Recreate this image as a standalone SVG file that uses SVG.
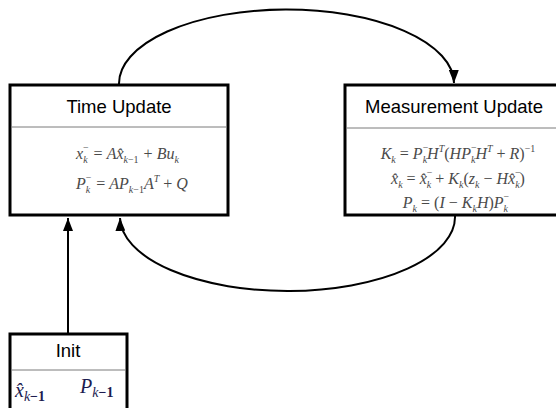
<svg xmlns="http://www.w3.org/2000/svg" width="556" height="408" viewBox="0 0 556 408">
  <style>
    .box { fill: #ffffff; stroke: #000000; stroke-width: 3; }
    .sep { stroke: #7a7a7a; stroke-width: 1; }
    .title { font-family: "Liberation Sans", Arial, sans-serif; font-size: 18.5px; fill: #000000; text-anchor: middle; }
    .eq { font-family: "Liberation Serif", "Times New Roman", serif; font-style: italic; font-size: 16px; fill: #4a4a4a; }
    .mid { text-anchor: middle; }
    .r { font-style: normal; }
    .s { font-size: 10px; }
    .init { font-family: "Liberation Serif", "Times New Roman", serif; font-style: italic; font-size: 20px; fill: #1c1c50; }
    .conn { fill: none; stroke: #000000; stroke-width: 2; }
  </style>
  <defs>
    <marker id="arrow" markerUnits="userSpaceOnUse" markerWidth="14" markerHeight="10" refX="13" refY="5" orient="auto">
      <path d="M0,0 L13,5 L0,10 z" fill="#000000"/>
    </marker>
  </defs>

  <g id="connectors">
    <path class="conn" d="M119,84 A167.5,74 0 0 1 454,83" marker-end="url(#arrow)"/>
    <path class="conn" d="M455,216 A167.5,74 0 0 1 120,218" marker-end="url(#arrow)"/>
    <path class="conn" d="M68,334 L68,218" marker-end="url(#arrow)"/>
  </g>

  <g id="time-update">
    <rect class="box" x="10" y="85" width="218" height="130"/>
    <line class="sep" x1="11.5" y1="127" x2="226.5" y2="127"/>
    <text class="title" x="119" y="113">Time Update</text>
    <text class="eq" x="76" y="159">x<tspan class="s r" dy="-8">−</tspan><tspan class="s" dx="-5.6" dy="12">k</tspan><tspan class="r" dy="-4" dx="2"> = </tspan>Ax̂<tspan class="s" dy="4">k<tspan class="r">−1</tspan></tspan><tspan class="r" dy="-4" dx="1"> + </tspan>Bu<tspan class="s" dy="4">k</tspan></text>
    <text class="eq" x="76" y="189">P<tspan class="s r" dy="-8">−</tspan><tspan class="s" dx="-5.6" dy="12">k</tspan><tspan class="r" dy="-4" dx="2"> = </tspan>AP<tspan class="s" dy="4">k<tspan class="r">−1</tspan></tspan><tspan dy="-4">A</tspan><tspan class="s" dy="-7">T</tspan><tspan class="r" dy="7"> + </tspan>Q</text>
  </g>

  <g id="measurement-update">
    <rect class="box" x="345" y="85" width="222" height="130"/>
    <line class="sep" x1="346.5" y1="128" x2="556" y2="128"/>
    <text class="title" x="454" y="113">Measurement Update</text>
    <text class="eq mid" x="458" y="159">K<tspan class="s" dy="4">k</tspan><tspan class="r" dy="-4"> = </tspan>P<tspan class="s r" dy="-8">−</tspan><tspan class="s" dx="-5.6" dy="12">k</tspan><tspan dy="-4">H</tspan><tspan class="s" dy="-7">T</tspan><tspan class="r" dy="7">(</tspan>HP<tspan class="s r" dy="-8">−</tspan><tspan class="s" dx="-5.6" dy="12">k</tspan><tspan dy="-4">H</tspan><tspan class="s" dy="-7">T</tspan><tspan class="r" dy="7"> + </tspan>R<tspan class="r">)</tspan><tspan class="s r" dy="-7">−1</tspan></text>
    <text class="eq mid" x="458" y="184">x̂<tspan class="s" dy="4">k</tspan><tspan class="r" dy="-4"> = </tspan>x̂<tspan class="s r" dy="-8">−</tspan><tspan class="s" dx="-5.6" dy="12">k</tspan><tspan class="r" dy="-4"> + </tspan>K<tspan class="s" dy="4">k</tspan><tspan class="r" dy="-4">(</tspan>z<tspan class="s" dy="4">k</tspan><tspan class="r" dy="-4"> − </tspan>Hx̂<tspan class="s r" dy="-8">−</tspan><tspan class="s" dx="-5.6" dy="12">k</tspan><tspan class="r" dy="-4">)</tspan></text>
    <text class="eq mid" x="456" y="208">P<tspan class="s" dy="4">k</tspan><tspan class="r" dy="-4"> = (</tspan>I<tspan class="r"> − </tspan>K<tspan class="s" dy="4">k</tspan><tspan dy="-4">H</tspan><tspan class="r">)</tspan>P<tspan class="s r" dy="-8">−</tspan><tspan class="s" dx="-5.6" dy="12">k</tspan></text>
  </g>

  <g id="init">
    <rect class="box" x="10" y="334" width="117" height="90"/>
    <line class="sep" x1="11.5" y1="370" x2="125.5" y2="370"/>
    <text class="title" x="68" y="357">Init</text>
    <text class="init" x="15" y="397">x̂<tspan font-size="14" dy="4">k<tspan font-style="normal" font-weight="bold">−1</tspan></tspan></text>
    <text class="init" x="80" y="393">P<tspan font-size="14" dy="4">k<tspan font-style="normal" font-weight="bold">−1</tspan></tspan></text>
  </g>
</svg>
